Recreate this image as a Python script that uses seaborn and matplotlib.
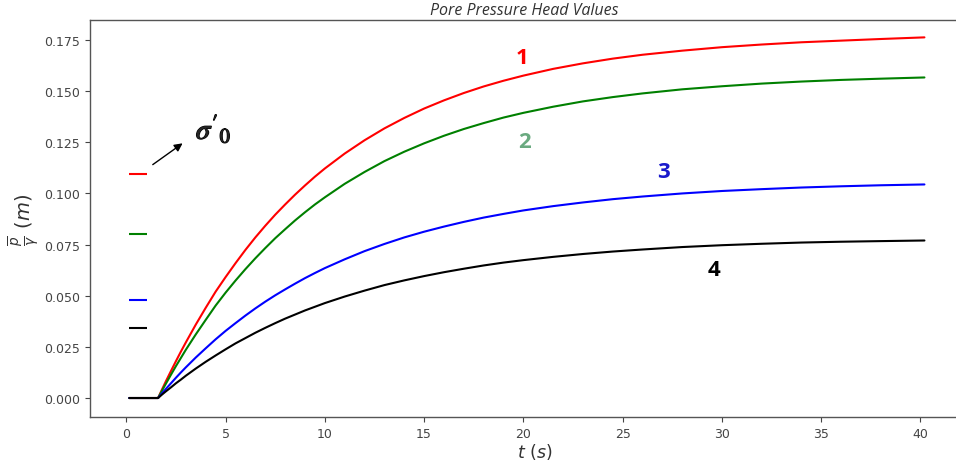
"""Pore pressure head values over time for four cases."""

import pandas as pd
import seaborn as sns
import matplotlib.pyplot as plt
import matplotlib.patheffects as pe

# time (s)
tempo = [0.15, 1.6, 1.8, 2.0, 2.25, 2.5, 2.75, 3.0, 3.5, 4.0, 4.5, 5.0, 5.5, 6.0,
         6.5, 7.0, 7.5, 8.0, 8.5, 9.0, 9.5, 10.0, 11.0, 12.0, 13.0, 14.0, 15.0,
         16.0, 17.0, 18.0, 19.0, 20.0, 21.5, 23.0, 24.5, 26.0, 28.0, 30.0, 32.0,
         34.0, 36.0, 38.0, 40.2]

# p/gamma (m) for each case
caso_1 = [0.0, 0.0, 0.0042, 0.0083, 0.0132, 0.0180, 0.0227, 0.0272, 0.0359, 0.0441,
          0.0520, 0.0591, 0.0659, 0.0724, 0.0785, 0.0842, 0.0896, 0.0946, 0.0994,
          0.1039, 0.1082, 0.1122, 0.1195, 0.1260, 0.1318, 0.1369, 0.1415, 0.1455,
          0.1491, 0.1523, 0.1551, 0.1576, 0.1609, 0.1636, 0.1659, 0.1678, 0.1698,
          0.1715, 0.1728, 0.1739, 0.1747, 0.1755, 0.1763]
caso_2 = [0.0, 0.0, 0.0036, 0.0071, 0.0114, 0.0156, 0.0196, 0.0236, 0.0311, 0.0382,
          0.0452, 0.0515, 0.0574, 0.0630, 0.0683, 0.0733, 0.0781, 0.0825, 0.0868,
          0.0908, 0.0946, 0.0981, 0.1047, 0.1105, 0.1158, 0.1204, 0.1245, 0.1282,
          0.1315, 0.1344, 0.1371, 0.1394, 0.1424, 0.1450, 0.1471, 0.1489, 0.1509,
          0.1524, 0.1537, 0.1547, 0.1555, 0.1561, 0.1567]
caso_3 = [0.0, 0.0, 0.0023, 0.0045, 0.0072, 0.0099, 0.0125, 0.0150, 0.0198, 0.0243,
          0.0287, 0.0328, 0.0366, 0.0403, 0.0438, 0.0471, 0.0502, 0.0531, 0.0559,
          0.0586, 0.0611, 0.0635, 0.0678, 0.0718, 0.0753, 0.0785, 0.0813, 0.0838,
          0.0861, 0.0882, 0.0900, 0.0917, 0.0938, 0.0956, 0.0972, 0.0985, 0.1000,
          0.1012, 0.1021, 0.1029, 0.1035, 0.1040, 0.1044]
caso_4 = [0.0, 0.0, 0.0017, 0.0033, 0.0052, 0.0072, 0.0090, 0.0109, 0.0144, 0.0177,
          0.0208, 0.0238, 0.0267, 0.0293, 0.0319, 0.0343, 0.0366, 0.0388, 0.0408,
          0.0428, 0.0446, 0.0464, 0.0496, 0.0525, 0.0552, 0.0575, 0.0596, 0.0615,
          0.0632, 0.0648, 0.0662, 0.0674, 0.0690, 0.0704, 0.0716, 0.0726, 0.0738,
          0.0747, 0.0754, 0.0760, 0.0764, 0.0767, 0.0770]

# sigma'_0 levels (short marks at the left)
sigma0 = [0.1095, 0.0802, 0.0479, 0.0343]

cores = ['#ff0000', '#008000', '#0000ff', '#000000']
rotulos = ['1', '2', '3', '4']
cores_rotulos = ['#ff0000', '#6aaa80', '#1a1acc', '#000000']
pos_rotulos = [(19.95, 0.1667), (20.05, 0.1256), (27.05, 0.1105), (29.6, 0.0626)]

sns.set_theme(style='ticks')
plt.rcParams['font.family'] = ['DejaVu Sans']

fig = plt.figure(figsize=(9.56, 4.64), dpi=100)
ax = fig.add_axes([0.0941, 0.0991, 0.93, 0.8556])

for serie, cor in zip([caso_1, caso_2, caso_3, caso_4], cores):
    df = pd.DataFrame({'t': tempo, 'p': serie})
    sns.lineplot(data=df, x='t', y='p', color=cor, linewidth=1.5, ax=ax)

ax.hlines(sigma0, 0.15, 1.05, colors=cores, linewidth=1.5)

for txt, cor, (x, y) in zip(rotulos, cores_rotulos, pos_rotulos):
    ax.text(x, y, txt, color=cor, fontsize=16, fontweight='bold',
            family='Open Sans', ha='center', va='center')

ax.text(4.4, 0.1315, r"$\sigma'_0$", fontsize=21, math_fontfamily='stix',
        ha='center', va='center',
        path_effects=[pe.withStroke(linewidth=0.9, foreground='black')])
ax.annotate('', xy=(2.95, 0.1253), xytext=(1.22, 0.1133),
            arrowprops=dict(arrowstyle='-|>', color='black', lw=1.0,
                            mutation_scale=12))

ax.set_xlim(-1.83, 42.95)
ax.set_ylim(-0.00929, 0.18478)
ax.set_xticks(range(0, 41, 5))
ax.set_yticks([0.0, 0.025, 0.05, 0.075, 0.1, 0.125, 0.15, 0.175])
ax.set_yticklabels([f'{v:.3f}' for v in ax.get_yticks()])
ax.tick_params(labelsize=9, colors='#444444', length=3.5, width=0.8)

for lado in ['left', 'bottom', 'top']:
    ax.spines[lado].set_color('#555555')
    ax.spines[lado].set_linewidth(1.0)
ax.spines['right'].set_visible(False)

ax.set_xlabel(r'$t\ (s)$', fontsize=12.5, color='#333333', labelpad=1)
ax.set_ylabel(r'$\frac{\overline{p}}{\gamma}\ (m)$', fontsize=14, color='#333333',
              labelpad=2)
ax.set_title('Pore Pressure Head Values', fontsize=11.5, style='italic',
             color='#333333', family='Open Sans', pad=4, x=0.489)

fig.savefig('out.png', dpi=100)
